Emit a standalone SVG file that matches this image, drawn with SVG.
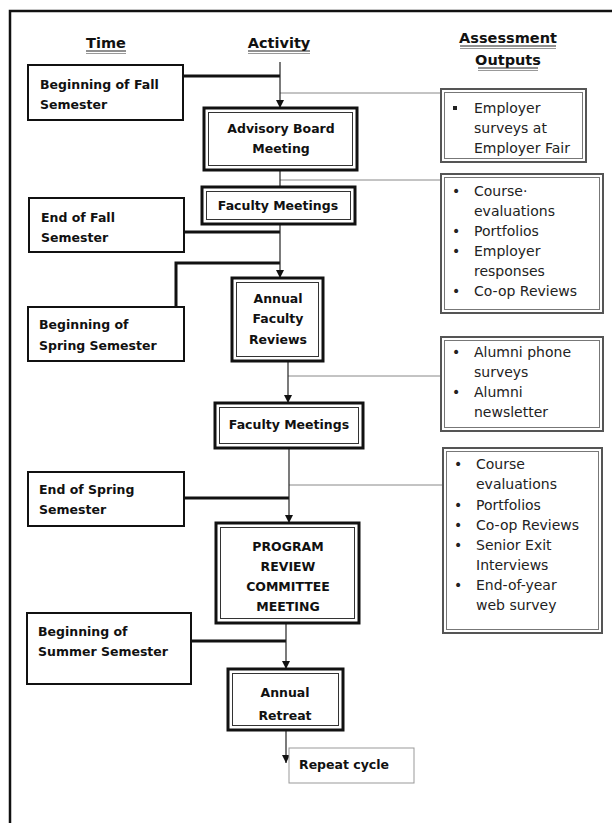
<svg xmlns="http://www.w3.org/2000/svg" width="612" height="823" viewBox="0 0 612 823">
<style>
.hdr{font-family:"DejaVu Sans","Liberation Sans",sans-serif;font-weight:bold;font-size:14.5px;fill:#111;text-anchor:middle}
.ul1{stroke:#222;stroke-width:1.2}
.ul2{stroke:#999;stroke-width:1.2}
.tb{fill:#fff;stroke:#111;stroke-width:2}
.tt{font-family:"DejaVu Sans","Liberation Sans",sans-serif;font-weight:bold;font-size:12.5px;fill:#111}
.ao{fill:#fff;stroke:#111;stroke-width:3}
.ai{fill:none;stroke:#333;stroke-width:1}
.at{font-family:"DejaVu Sans","Liberation Sans",sans-serif;font-weight:bold;font-size:12.5px;fill:#111;text-anchor:middle}
.ro{fill:#fff;stroke:#555;stroke-width:2}
.ri{fill:none;stroke:#777;stroke-width:1}
.rt{font-family:"DejaVu Sans","Liberation Sans",sans-serif;font-size:14px;fill:#222}
.thick{fill:none;stroke:#111;stroke-width:3}
.flow{fill:none;stroke:#222;stroke-width:1.2}
.gray{fill:none;stroke:#888;stroke-width:1}
</style>
<defs>
<marker id="ah" viewBox="0 0 10 10" refX="10" refY="5" markerWidth="8" markerHeight="8" markerUnits="userSpaceOnUse" orient="auto">
<path d="M0,0 L10,5 L0,10 Z" fill="#111"/>
</marker>
</defs>
<rect width="612" height="823" fill="#fff"/>
<path d="M10,823 V11 H612" fill="none" stroke="#111" stroke-width="2.5"/>

<g id="headers">
<text class="hdr" x="106" y="48">Time</text>
<line class="ul1" x1="86" y1="51" x2="126" y2="51"/><line class="ul2" x1="86" y1="53.5" x2="126" y2="53.5"/>
<text class="hdr" x="279" y="48">Activity</text>
<line class="ul1" x1="248" y1="51" x2="310" y2="51"/><line class="ul2" x1="248" y1="53.5" x2="310" y2="53.5"/>
<text class="hdr" x="508" y="43">Assessment</text>
<line class="ul1" x1="460" y1="46" x2="556" y2="46"/><line class="ul2" x1="460" y1="48.5" x2="556" y2="48.5"/>
<text class="hdr" x="508" y="65">Outputs</text>
<line class="ul1" x1="478" y1="68" x2="538" y2="68"/><line class="ul2" x1="478" y1="70.5" x2="538" y2="70.5"/>
</g>

<g id="connectors">
<path class="thick" d="M183,76 H280"/>
<path class="thick" d="M184,232 H280"/>
<path class="thick" d="M176,307 V263 H280"/>
<path class="thick" d="M184,498 H289"/>
<path class="thick" d="M191,641 H286"/>
<path class="gray" d="M280,93 H441"/>
<path class="gray" d="M280,180 H441"/>
<path class="gray" d="M288,376 H441"/>
<path class="gray" d="M289,485 H443"/>
<path class="flow" d="M280,62 V108" marker-end="url(#ah)"/>
<path class="flow" d="M280,170 V187"/>
<path class="flow" d="M280,224 V278" marker-end="url(#ah)"/>
<path class="flow" d="M288,361 V403" marker-end="url(#ah)"/>
<path class="flow" d="M289,448 V523" marker-end="url(#ah)"/>
<path class="flow" d="M286,623 V669" marker-end="url(#ah)"/>
<path class="flow" d="M286,730 V763" marker-end="url(#ah)"/>
</g>

<g id="t1">
<rect class="tb" x="28" y="65" width="155" height="55"/>
<text class="tt" x="40" y="89">Beginning of Fall</text>
<text class="tt" x="40" y="109">Semester</text>
</g>
<g id="t2">
<rect class="tb" x="29" y="198" width="155" height="54"/>
<text class="tt" x="41" y="222">End of Fall</text>
<text class="tt" x="41" y="242">Semester</text>
</g>
<g id="t3">
<rect class="tb" x="28" y="307" width="156" height="54"/>
<text class="tt" x="39" y="329">Beginning of</text>
<text class="tt" x="39" y="350">Spring Semester</text>
</g>
<g id="t4">
<rect class="tb" x="28" y="472" width="156" height="54"/>
<text class="tt" x="39" y="494">End of Spring</text>
<text class="tt" x="39" y="514">Semester</text>
</g>
<g id="t5">
<rect class="tb" x="27" y="613" width="164" height="71"/>
<text class="tt" x="38" y="636">Beginning of</text>
<text class="tt" x="38" y="656">Summer Semester</text>
</g>

<g id="a1">
<rect class="ao" x="204" y="108" width="153" height="62"/>
<rect class="ai" x="208.5" y="112.5" width="144" height="53"/>
<text class="at" x="281" y="133">Advisory Board</text>
<text class="at" x="281" y="153">Meeting</text>
</g>
<g id="a2">
<rect class="ao" x="202" y="187" width="153" height="37"/>
<rect class="ai" x="206.5" y="191.5" width="144" height="28"/>
<text class="at" x="278" y="210">Faculty Meetings</text>
</g>
<g id="a3">
<rect class="ao" x="232" y="278" width="91" height="83"/>
<rect class="ai" x="236.5" y="282.5" width="82" height="74"/>
<text class="at" x="278" y="303">Annual</text>
<text class="at" x="278" y="323">Faculty</text>
<text class="at" x="278" y="344">Reviews</text>
</g>
<g id="a4">
<rect class="ao" x="215" y="403" width="148" height="45"/>
<rect class="ai" x="219.5" y="407.5" width="139" height="36"/>
<text class="at" x="289" y="429">Faculty Meetings</text>
</g>
<g id="a5">
<rect class="ao" x="216" y="523" width="143" height="100"/>
<rect class="ai" x="220.5" y="527.5" width="134" height="91"/>
<text class="at" x="288" y="551">PROGRAM</text>
<text class="at" x="288" y="571">REVIEW</text>
<text class="at" x="288" y="591">COMMITTEE</text>
<text class="at" x="288" y="611">MEETING</text>
</g>
<g id="a6">
<rect class="ao" x="228" y="669" width="115" height="61"/>
<rect class="ai" x="232.5" y="673.5" width="106" height="52"/>
<text class="at" x="285" y="697">Annual</text>
<text class="at" x="285" y="720">Retreat</text>
</g>
<g id="repeat">
<rect x="289" y="748" width="125" height="35" fill="#fff" stroke="#999" stroke-width="1"/>
<text class="tt" x="299" y="769">Repeat cycle</text>
</g>

<g id="o1">
<rect class="ro" x="441" y="89" width="145" height="73"/>
<rect class="ri" x="444.5" y="92.5" width="138" height="66"/>
<rect x="453" y="106" width="4" height="4" fill="#222"/>
<text class="rt" x="474" y="113">Employer</text>
<text class="rt" x="474" y="133">surveys at</text>
<text class="rt" x="474" y="153">Employer Fair</text>
</g>
<g id="o2">
<rect class="ro" x="441" y="174" width="162" height="139"/>
<rect class="ri" x="444.5" y="177.5" width="155" height="132"/>
<text class="rt" x="452" y="196">•</text><text class="rt" x="474" y="196">Course·</text>
<text class="rt" x="474" y="216">evaluations</text>
<text class="rt" x="452" y="236">•</text><text class="rt" x="474" y="236">Portfolios</text>
<text class="rt" x="452" y="256">•</text><text class="rt" x="474" y="256">Employer</text>
<text class="rt" x="474" y="276">responses</text>
<text class="rt" x="452" y="296">•</text><text class="rt" x="474" y="296">Co-op Reviews</text>
</g>
<g id="o3">
<rect class="ro" x="441" y="337" width="162" height="94"/>
<rect class="ri" x="444.5" y="340.5" width="155" height="87"/>
<text class="rt" x="452" y="357">•</text><text class="rt" x="474" y="357">Alumni  phone</text>
<text class="rt" x="474" y="377">surveys</text>
<text class="rt" x="452" y="397">•</text><text class="rt" x="474" y="397">Alumni</text>
<text class="rt" x="474" y="417">newsletter</text>
</g>
<g id="o4">
<rect class="ro" x="443" y="448" width="159" height="185"/>
<rect class="ri" x="446.5" y="451.5" width="152" height="178"/>
<text class="rt" x="454" y="469">•</text><text class="rt" x="476" y="469">Course</text>
<text class="rt" x="476" y="489">evaluations</text>
<text class="rt" x="454" y="510">•</text><text class="rt" x="476" y="510">Portfolios</text>
<text class="rt" x="454" y="530">•</text><text class="rt" x="476" y="530">Co-op Reviews</text>
<text class="rt" x="454" y="550">•</text><text class="rt" x="476" y="550">Senior Exit</text>
<text class="rt" x="476" y="570">Interviews</text>
<text class="rt" x="454" y="590">•</text><text class="rt" x="476" y="590">End-of-year</text>
<text class="rt" x="476" y="610">web survey</text>
</g>
</svg>
